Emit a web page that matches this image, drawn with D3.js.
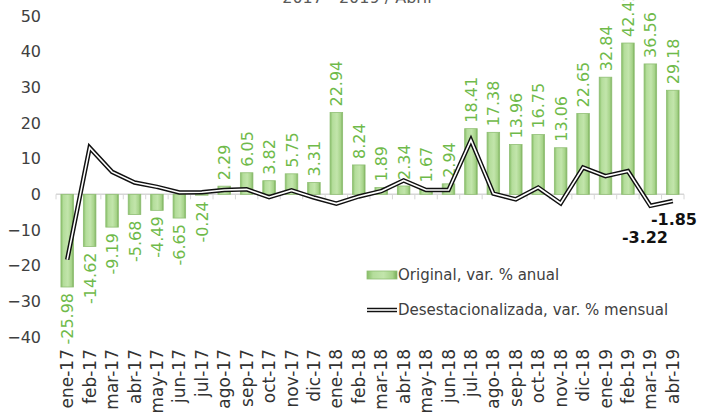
<!DOCTYPE html>
<html>
<head>
<meta charset="utf-8">
<script src="https://cdn.jsdelivr.net/npm/d3@7"></script>
<style>
  body { margin: 0; background: #fff; }
  svg  { display: block; font-family: 'DejaVu Sans', sans-serif; }
</style>
</head>
<body>
<script>

var width  = 709;
var height = 415;

var months = [ 'ene-17', 'feb-17', 'mar-17', 'abr-17', 'may-17', 'jun-17', 'jul-17',
               'ago-17', 'sep-17', 'oct-17', 'nov-17', 'dic-17', 'ene-18', 'feb-18',
               'mar-18', 'abr-18', 'may-18', 'jun-18', 'jul-18', 'ago-18', 'sep-18',
               'oct-18', 'nov-18', 'dic-18', 'ene-19', 'feb-19', 'mar-19', 'abr-19' ];

// original, var. % anual (bars)
var original = [ -25.98, -14.62, -9.19, -5.68, -4.49, -6.65, -0.24,
                   2.29,   6.05,  3.82,  5.75,  3.31, 22.94,  8.24,
                   1.89,   2.34,  1.67,  2.94, 18.41, 17.38, 13.96,
                  16.75,  13.06, 22.65, 32.84, 42.42, 36.56, 29.18 ];

// desestacionalizada, var. % mensual (line)
var desest = [ -18.3, 13.1, 6.3, 3.3, 2.1, 0.5, 0.6,
                 1.2,  1.4, -0.8, 1.1, -0.9, -2.6, -0.6,
                 0.9,  3.9,  1.2, 1.2, 15.2, 0.2, -1.4,
                 1.9, -2.5,  7.5, 5.1, 6.5, -3.22, -1.85 ];

var yTicks = [ 50, 40, 30, 20, 10, 0, -10, -20, -30, -40 ];

var green     = '#6fba4a';
var lineLabel = [ 26, 27 ];


var svg = d3.select('body')
            .append('svg')
            .attr('width', width)
            .attr('height', height);

var defs = svg.append('defs');
var grad = defs.append('linearGradient')
               .attr('id', 'bargrad')
               .attr('x1', '0').attr('x2', '1').attr('y1', '0').attr('y2', '0');
grad.append('stop').attr('offset', '0%').attr('stop-color', '#86bd66');
grad.append('stop').attr('offset', '20%').attr('stop-color', '#b4dd9b');
grad.append('stop').attr('offset', '55%').attr('stop-color', '#c2e5ab');
grad.append('stop').attr('offset', '85%').attr('stop-color', '#a6d389');
grad.append('stop').attr('offset', '100%').attr('stop-color', '#78ad58');

var x = d3.scaleBand()
          .domain(months)
          .range([56, 684])
          .paddingInner(0.44)
          .paddingOuter(0.22);

var y = d3.scaleLinear()
          .domain([-40, 50])
          .range([337, 16]);

var cx = function(d, i){ return x(months[i]) + x.bandwidth() / 2; };

// title, cut off at the top edge like the source image
svg.append('text')
   .attr('x', 357)
   .attr('y', 3)
   .attr('text-anchor', 'middle')
   .attr('font-size', '16px')
   .attr('fill', '#595959')
   .text('2017 - 2019 / Abril');

// y axis labels
var yAxis = svg.append('g')
               .attr('transform', 'translate(41,0)')
               .call(d3.axisLeft(y).tickValues(yTicks).tickSize(0).tickPadding(0));
yAxis.select('.domain').remove();
yAxis.selectAll('text')
     .attr('font-family', "'DejaVu Sans', sans-serif")
     .attr('font-size', '16px')
     .attr('fill', '#404040');

// zero line with category ticks
var xAxis = svg.append('g')
               .attr('transform', 'translate(0,' + y(0) + ')');
xAxis.append('line')
     .attr('x1', 56).attr('x2', 684)
     .attr('stroke', '#d6d6d6')
     .attr('stroke-width', 1.5);
xAxis.selectAll('line.tk')
     .data(months.concat(['end']))
     .enter()
     .append('line')
     .attr('class', 'tk')
     .attr('x1', function(d, i){ return 56 + i * x.step(); })
     .attr('x2', function(d, i){ return 56 + i * x.step(); })
     .attr('y1', 0).attr('y2', 5)
     .attr('stroke', '#d6d6d6');

// bars
svg.selectAll('rect.bar')
   .data(original)
   .enter()
   .append('rect')
   .attr('class', 'bar')
   .attr('x', function(d, i){ return x(months[i]); })
   .attr('y', function(d){ return y(Math.max(0, d)); })
   .attr('width', x.bandwidth())
   .attr('height', function(d){ return Math.abs(y(d) - y(0)); })
   .attr('fill', 'url(#bargrad)')
   .attr('stroke', '#8fbf73')
   .attr('stroke-width', 0.8);

// bar value labels
svg.selectAll('text.val')
   .data(original)
   .enter()
   .append('text')
   .attr('class', 'val')
   .attr('transform', function(d, i){
     var ty = d >= 0 ? y(d) - 6 : y(d) + 6;
     return 'translate(' + (cx(d, i) + 6) + ',' + ty + ') rotate(-90)';
   })
   .attr('text-anchor', function(d){ return d >= 0 ? 'start' : 'end'; })
   .attr('font-size', '16px')
   .attr('fill', green)
   .text(function(d){ return d.toFixed(2); });

// line: black outer, white inner
var line = d3.line()
             .x(function(d, i){ return cx(d, i); })
             .y(function(d){ return y(d); });

svg.append('path')
   .datum(desest)
   .attr('d', line)
   .attr('fill', 'none')
   .attr('stroke', '#111')
   .attr('stroke-width', 4.5)
   .attr('stroke-linejoin', 'miter');
svg.append('path')
   .datum(desest)
   .attr('d', line)
   .attr('fill', 'none')
   .attr('stroke', '#fff')
   .attr('stroke-width', 1.6);

// line labels for the last two months
svg.selectAll('text.lv')
   .data(lineLabel)
   .enter()
   .append('text')
   .attr('class', 'lv')
   .attr('x', function(d){ return d === 27 ? 697 : 668; })
   .attr('y', function(d){ return d === 27 ? 225 : 243; })
   .attr('text-anchor', 'end')
   .attr('font-size', '16px')
   .attr('font-weight', 'bold')
   .attr('fill', '#111')
   .text(function(d){ return desest[d].toFixed(2); });

// x labels
svg.selectAll('text.month')
   .data(months)
   .enter()
   .append('text')
   .attr('class', 'month')
   .attr('transform', function(d){
     return 'translate(' + (x(d) + x.bandwidth() / 2 + 6) + ',349) rotate(-90)';
   })
   .attr('text-anchor', 'end')
   .attr('font-size', '17px')
   .attr('fill', '#333')
   .text(function(d){ return d; });

// legend
var legend = svg.append('g');
legend.append('rect')
      .attr('x', 367).attr('y', 271)
      .attr('width', 30).attr('height', 8)
      .attr('fill', 'url(#bargrad)')
      .attr('stroke', '#8fbf73')
      .attr('stroke-width', 0.8);
legend.append('text')
      .attr('x', 398).attr('y', 280)
      .attr('font-size', '15px')
      .attr('fill', '#404040')
      .text('Original, var. % anual');
legend.append('line')
      .attr('x1', 367).attr('x2', 397)
      .attr('y1', 310).attr('y2', 310)
      .attr('stroke', '#111').attr('stroke-width', 4.5);
legend.append('line')
      .attr('x1', 367).attr('x2', 397)
      .attr('y1', 310).attr('y2', 310)
      .attr('stroke', '#fff').attr('stroke-width', 1.6);
legend.append('text')
      .attr('x', 398).attr('y', 315)
      .attr('font-size', '15px')
      .attr('fill', '#404040')
      .text('Desestacionalizada, var. % mensual');

</script>
</body>
</html>
